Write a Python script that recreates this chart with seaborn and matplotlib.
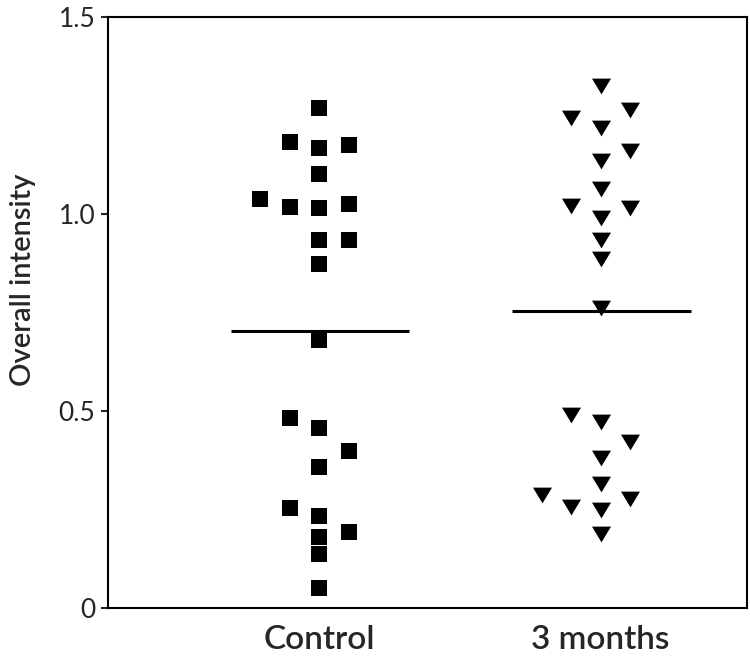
import numpy as np
import pandas as pd
import matplotlib
matplotlib.use("Agg")
import matplotlib.pyplot as plt
import seaborn as sns
from matplotlib.path import Path

# values
groups = ["Control", "3 months"]

control = [1.268, 1.182, 1.175, 1.167, 1.101, 1.037, 1.025, 1.019, 1.014,
           0.934, 0.934, 0.872, 0.680,
           0.483, 0.458, 0.399, 0.359, 0.253, 0.234, 0.194, 0.181, 0.136, 0.052]
months3 = [1.325, 1.263, 1.244, 1.218, 1.160, 1.135, 1.063, 1.020, 1.015,
           0.991, 0.933, 0.885, 0.761,
           0.490, 0.472, 0.421, 0.380, 0.315, 0.288, 0.276, 0.256, 0.250, 0.188]

yticks = [0, 0.5, 1.0, 1.5]
ytick_labels = ["0", "0.5", "1.0", "1.5"]
ylabel = "Overall intensity"


def columns(vals, gap, side=1):
    # prism style column scatter: go up from the lowest value, keep it in the
    # middle column unless it would touch a point already there
    placed = {}
    out = np.zeros(len(vals))
    for i in np.argsort(vals, kind="stable"):
        v = vals[i]
        for c in [0, side, -side, 2 * side, -2 * side, 3 * side, -3 * side]:
            if all(abs(v - p) >= gap for p in placed.get(c, [])):
                break
        placed.setdefault(c, []).append(v)
        out[i] = c
        if c != 0:
            side = -side
    return out


tri = Path([(-1, 0.83), (1, 0.83), (0, -0.83), (-1, 0.83)],
           [Path.MOVETO, Path.LINETO, Path.LINETO, Path.CLOSEPOLY])
# marker, size, min vertical gap (triangles are a bit taller than squares)
marks = {"Control": ("s", 117, 0.044, 1), "3 months": (tri, 187, 0.046, -1)}

frames = []
for i, (name, vals) in enumerate(zip(groups, [control, months3])):
    d = pd.DataFrame({"group": name, "value": vals})
    _, _, gap, side = marks[name]
    d["x"] = i + columns(np.array(vals), gap, side) * 0.105
    frames.append(d)
df = pd.concat(frames, ignore_index=True)

sns.set_style("ticks")
plt.rcParams["font.family"] = ["Lato", "DejaVu Sans"]

fig = plt.figure(figsize=(7.5, 6.61), dpi=100)
ax = fig.add_axes([108 / 750, 53 / 661, 639 / 750, 591 / 661])

for i, g in enumerate(groups):
    sub = df[df["group"] == g]
    m, s, _, _ = marks[g]
    sns.scatterplot(data=sub, x="x", y="value", marker=m, s=s, color="black",
                    linewidth=0, ax=ax, legend=False)
    ax.hlines(sub["value"].mean(), i - 0.315, i + 0.32, color="black", lw=2.2)

ax.set_xlim(-0.751, 1.52)
ax.set_ylim(0, 1.5)
ax.set_xticks(range(len(groups)))
ax.set_xticklabels(groups, fontsize=24, fontweight="semibold")
ax.set_yticks(yticks)
ax.set_yticklabels(ytick_labels, fontsize=19)
ax.tick_params(axis="x", length=0, pad=12)
ax.tick_params(axis="y", length=5, width=1.5, pad=4)
ax.set_xlabel("")
ax.set_ylabel(ylabel, fontsize=21, fontweight="semibold")
ax.yaxis.set_label_coords(-0.112, 0.555)
for sp in ax.spines.values():
    sp.set_linewidth(1.5)
    sp.set_color("black")

fig.savefig("out.png", dpi=100)
